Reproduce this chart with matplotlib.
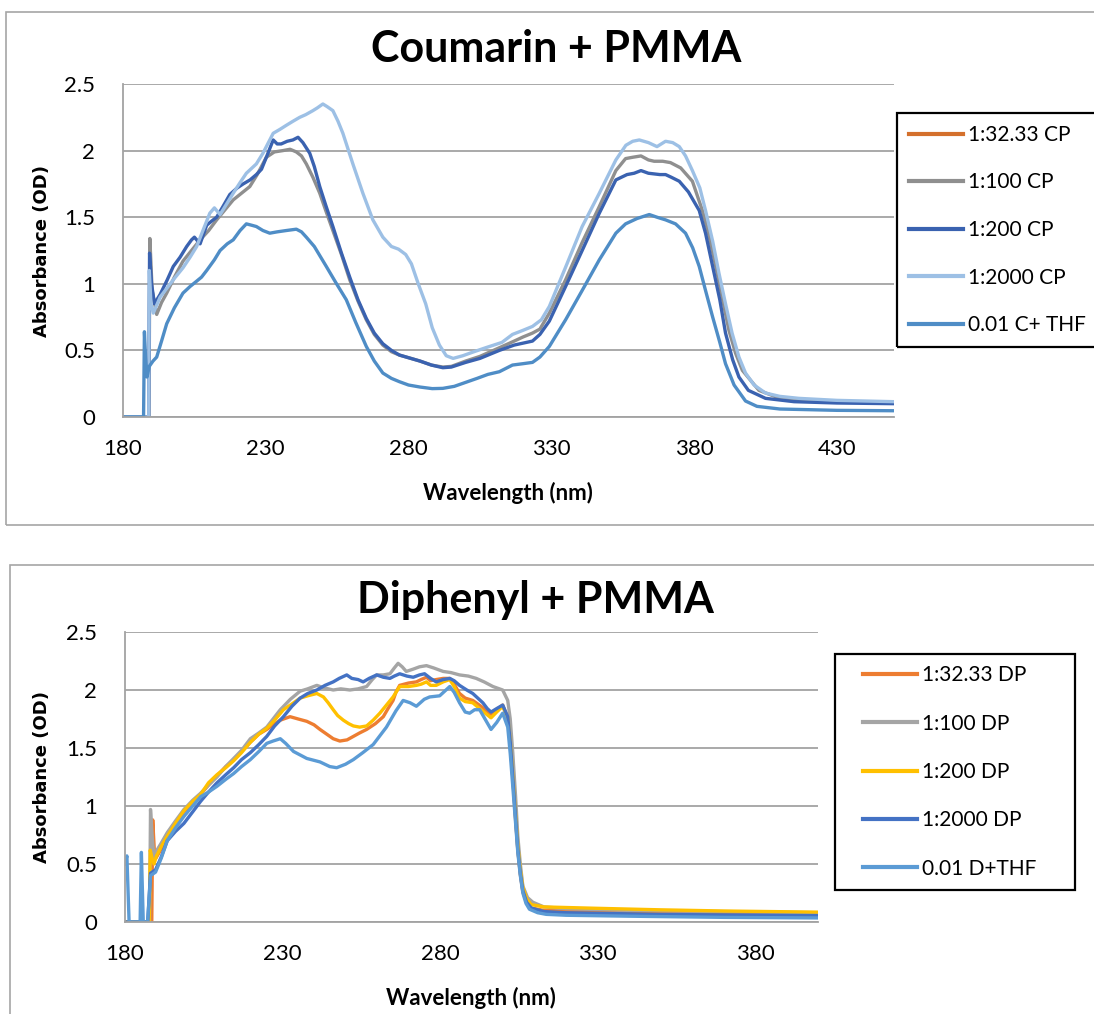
import matplotlib.pyplot as plt
from matplotlib.patches import Rectangle
from matplotlib.lines import Line2D

plt.rcParams['font.family'] = ['Lato', 'DejaVu Sans']

# ---------------- Coumarin + PMMA ----------------
c_labels = ["1:32.33 CP", "1:100 CP", "1:200 CP", "1:2000 CP", "0.01 C+ THF"]
c_colors = ["#D4702C", "#8F8F8F", "#3A62B0", "#9DC0E5", "#4F8DC6"]

# 1:32.33 CP is hidden in the original plot (only in the legend)
wl_c32 = []
od_c32 = []

wl_c100 = [180, 189.1, 189.4, 190.2, 191.8, 193.5, 195.3, 198, 201, 204, 207, 210, 212.8, 215.5,
           218.6, 221.5, 224.4, 227, 230.2, 233, 236, 238.5, 240.7, 242.5, 244.2, 246.5, 248.9,
           251, 253.5, 256.5, 259.4, 262.3, 265.2, 268, 271, 274, 276.8, 280, 284, 288, 292, 295,
           300, 305, 311.8, 317, 320, 323.4, 326, 329.3, 335, 340.8, 346.8, 352.6, 356, 358.5,
           361.4, 364, 366, 369, 371.7, 375.3, 379.4, 382.9, 385, 387.6, 390, 392.2, 394.5,
           396.9, 402.7, 410, 420, 450]
od_c100 = [0, 0, 1.34, 0.95, 0.77, 0.86, 0.93, 1.05, 1.17, 1.25, 1.33, 1.40, 1.48, 1.55,
           1.63, 1.68, 1.73, 1.82, 1.95, 1.99, 2.00, 2.01, 1.99, 1.96, 1.90, 1.80, 1.68,
           1.55, 1.40, 1.22, 1.03, 0.87, 0.73, 0.62, 0.54, 0.49, 0.465, 0.445, 0.42, 0.39, 0.375, 0.38,
           0.42, 0.455, 0.52, 0.57, 0.60, 0.63, 0.66, 0.78, 1.03, 1.31, 1.58, 1.85, 1.94, 1.95,
           1.96, 1.93, 1.92, 1.92, 1.91, 1.87, 1.77, 1.55, 1.38, 1.13, 0.88, 0.65, 0.48,
           0.35, 0.20, 0.14, 0.12, 0.11]

wl_c200 = [180, 189, 189.3, 190, 191, 193, 195.5, 197.6, 200, 202.3, 204, 205, 207, 209.3, 211,
           212.8, 215, 217.4, 220, 222.1, 224.5, 226.7, 228.5, 230.2, 232.6, 234, 235.4, 237.5,
           239.5, 241.3, 243, 245.4, 247, 248.9, 251, 253.5, 256.5, 259.4, 262.3, 265.2, 268, 271,
           274, 276.8, 280, 284, 288, 292, 295, 300, 305, 311.8, 317, 323.4, 326, 329.3, 335,
           340.8, 346.8, 352.6, 356.5, 359, 361.4, 364, 368, 370, 372, 374.8, 378, 381.8, 384,
           386.5, 389, 391, 393.5, 395.7, 399, 405, 415, 430, 450]
od_c200 = [0, 0, 1.23, 1.0, 0.85, 0.92, 1.03, 1.13, 1.20, 1.28, 1.33, 1.35, 1.30, 1.44, 1.47,
           1.50, 1.58, 1.67, 1.72, 1.75, 1.78, 1.82, 1.86, 1.95, 2.08, 2.05, 2.05, 2.07,
           2.08, 2.10, 2.06, 1.98, 1.88, 1.73, 1.59, 1.43, 1.23, 1.05, 0.88, 0.74, 0.63, 0.55,
           0.50, 0.465, 0.445, 0.42, 0.39, 0.37, 0.375, 0.41, 0.44, 0.50, 0.54, 0.57, 0.62, 0.72, 0.98,
           1.25, 1.53, 1.78, 1.82, 1.83, 1.85, 1.83, 1.82, 1.82, 1.80, 1.77, 1.69, 1.55, 1.38,
           1.13, 0.88, 0.63, 0.43, 0.30, 0.20, 0.14, 0.115, 0.105, 0.10]

wl_c2000 = [180, 189, 189.2, 189.8, 190.6, 193, 197.6, 201, 203.5, 205.8, 208, 210.4, 212, 214,
            216.3, 218.6, 221, 223.2, 226.7, 229, 232.6, 235, 237.2, 239.5, 241.9, 244, 246.5,
            248, 250, 251.5, 253.5, 255.3, 257, 260.5, 264, 267.5, 271, 274, 276.5, 279, 281,
            283.4, 286, 288.3, 290.8, 293.2, 295.6, 299, 302.9, 307, 312.7, 316.4, 320, 323.4,
            326.5, 329.3, 335.1, 340.8, 346.8, 352.6, 356.1, 358.5, 360.8, 364, 367, 370, 372.5,
            374.8, 377, 379.4, 382, 384, 386.5, 388.7, 391, 393.3, 395.7, 398, 401, 405, 410,
            416.7, 430, 450]
od_c2000 = [0, 0, 1.10, 0.85, 0.78, 0.90, 1.03, 1.12, 1.20, 1.28, 1.40, 1.53, 1.57, 1.52,
            1.60, 1.68, 1.76, 1.83, 1.90, 1.98, 2.13, 2.16, 2.19, 2.22, 2.25, 2.27, 2.30,
            2.32, 2.35, 2.33, 2.30, 2.22, 2.13, 1.90, 1.68, 1.48, 1.35, 1.28, 1.26, 1.22, 1.15,
            1.00, 0.85, 0.67, 0.54, 0.46, 0.44, 0.46, 0.49, 0.52, 0.56, 0.62, 0.65, 0.68,
            0.73, 0.83, 1.13, 1.43, 1.68, 1.93, 2.04, 2.07, 2.08, 2.06, 2.03, 2.07, 2.06,
            2.03, 1.96, 1.85, 1.72, 1.55, 1.32, 1.08, 0.85, 0.63, 0.45, 0.33, 0.24, 0.18, 0.155,
            0.14, 0.125, 0.115]

wl_cthf = [180, 187.2, 187.5, 187.9, 188.4, 189.2, 190.5, 191.8, 193.5, 195.3, 198, 201, 203.5,
           205.8, 207.5, 209.3, 212, 214, 216.5, 218.6, 221, 223.2, 225, 226.7, 229, 231.4, 234,
           237.2, 240.7, 242.5, 244.2, 247, 251.2, 254.5, 258.2, 261.5, 265.2, 268, 271, 274,
           276.8, 280, 284, 288.3, 292, 296, 300, 304, 307.8, 311.8, 316.4, 320, 323.4, 326,
           329.3, 335, 340.8, 346.8, 352.6, 356, 360, 364.3, 367, 370, 373.5, 377, 379.5, 381.8,
           384, 386.5, 389, 391, 394, 398, 402, 410, 430, 450]
od_cthf = [0, 0, 0.64, 0.45, 0.30, 0.38, 0.42, 0.45, 0.57, 0.70, 0.82, 0.93, 0.98,
           1.02, 1.05, 1.10, 1.18, 1.25, 1.30, 1.33, 1.40, 1.45, 1.44, 1.43, 1.40, 1.38, 1.39,
           1.40, 1.41, 1.39, 1.35, 1.28, 1.13, 1.01, 0.88, 0.71, 0.53, 0.42, 0.33, 0.29,
           0.265, 0.24, 0.225, 0.213, 0.215, 0.23, 0.26, 0.29, 0.32, 0.34, 0.39, 0.40, 0.41, 0.45,
           0.53, 0.73, 0.95, 1.18, 1.38, 1.45, 1.49, 1.52, 1.50, 1.48, 1.45, 1.38, 1.27, 1.13,
           0.95, 0.75, 0.56, 0.40, 0.24, 0.12, 0.08, 0.06, 0.05, 0.047]

# ---------------- Diphenyl + PMMA ----------------
d_labels = ["1:32.33 DP", "1:100 DP", "1:200 DP", "1:2000 DP", "0.01 D+THF"]
d_colors = ["#ED7D31", "#A5A5A5", "#FFC000", "#4472C4", "#5B9BD5"]

wl_d32 = [180, 188.5, 188.8, 189.3, 189.8, 191.5, 193.4, 196, 198.7, 201.5, 204, 206.5, 209.2,
          212, 214.5, 217, 219.8, 222.5, 225, 227, 229.3, 232.4, 235, 237.7, 240, 241.9, 244,
          246.1, 248.2, 250.5, 252.5, 254.5, 256.7, 259.5, 262, 263.5, 265.1, 266, 267.2, 270,
          272.5, 274, 275.7, 277, 278.8, 281, 283.1, 284.5, 286.2, 288, 290.4, 293, 296.2, 298,
          299.9, 301.5, 302.3, 303.1, 304, 304.7, 305.5, 306.3, 307.5, 309, 313, 320, 350, 400]
od_d32 = [0, 0, 0.88, 0.62, 0.55, 0.63, 0.71, 0.83, 0.95, 1.03, 1.10, 1.18, 1.26,
          1.34, 1.40, 1.47, 1.55, 1.62, 1.66, 1.70, 1.74, 1.77, 1.75, 1.73, 1.70, 1.66, 1.62,
          1.58, 1.56, 1.57, 1.60, 1.63, 1.66, 1.71, 1.77, 1.84, 1.91, 1.98, 2.04, 2.06,
          2.07, 2.09, 2.11, 2.08, 2.09, 2.10, 2.10, 2.05, 1.97, 1.93, 1.91, 1.86, 1.79, 1.83,
          1.87, 1.76, 1.55, 1.25, 0.88, 0.62, 0.41, 0.26, 0.17, 0.12, 0.10, 0.095, 0.085, 0.075]

wl_d100 = [180, 187.8, 188.1, 188.6, 189.2, 189.7, 191.5, 193.4, 196, 198.7, 201.5, 204, 206.5,
           209.2, 212, 214.5, 217, 219.8, 222.5, 225, 227, 229.3, 232.5, 235.6, 238, 240.9, 243,
           246.1, 248.5, 251.4, 254, 256.7, 258.5, 259.9, 262, 264.1, 265.5, 266.7, 268, 269.3,
           271.5, 273.5, 275.7, 278, 281, 283.5, 286.2, 289, 291.5, 294, 296.8, 299.9, 301.5,
           302.3, 303.1, 304, 304.7, 305.5, 306.3, 307.8, 309.5, 313, 320, 340, 370, 400]
od_d100 = [0, 0, 0.97, 0.75, 0.55, 0.60, 0.68, 0.77, 0.87, 0.97, 1.05, 1.11, 1.18,
           1.25, 1.34, 1.41, 1.48, 1.58, 1.63, 1.68, 1.75, 1.83, 1.92, 1.99, 2.01, 2.04, 2.02,
           2.00, 2.01, 2.00, 2.01, 2.03, 2.09, 2.13, 2.13, 2.14, 2.19, 2.23, 2.20, 2.16,
           2.18, 2.20, 2.21, 2.19, 2.16, 2.15, 2.13, 2.12, 2.10, 2.07, 2.03, 2.00, 1.91,
           1.75, 1.46, 1.08, 0.74, 0.50, 0.31, 0.21, 0.17, 0.13, 0.115, 0.10, 0.09, 0.08]

wl_d200 = [180, 187.7, 188, 188.6, 189.2, 190, 191.5, 193.4, 196, 198.7, 201.5, 204, 206.5, 209.2,
           212, 214.5, 217, 219.8, 222.5, 225, 227.5, 230.3, 233, 235.6, 238, 240.9, 243, 244.5,
           246.1, 247.5, 249.3, 251, 252.5, 254.5, 256.7, 258.8, 260.9, 263, 265.1, 267.2, 270,
           272.5, 274, 275.7, 277, 278.8, 281, 283.1, 284.5, 286.2, 288, 290.4, 293, 296.2, 298,
           299.9, 301.5, 302.3, 303.1, 304, 304.7, 305.5, 306.3, 307.5, 309, 313, 320, 330, 350,
           370, 400]
od_d200 = [0, 0, 0.62, 0.55, 0.50, 0.57, 0.65, 0.74, 0.85, 0.96, 1.04, 1.10, 1.20, 1.27,
           1.33, 1.39, 1.46, 1.55, 1.62, 1.67, 1.74, 1.83, 1.88, 1.93, 1.95, 1.97, 1.94, 1.89,
           1.83, 1.78, 1.74, 1.71, 1.69, 1.68, 1.69, 1.74, 1.80, 1.87, 1.94, 2.03, 2.03,
           2.04, 2.05, 2.07, 2.04, 2.04, 2.07, 2.09, 2.03, 1.93, 1.90, 1.89, 1.83, 1.76, 1.81,
           1.86, 1.76, 1.56, 1.27, 0.92, 0.66, 0.45, 0.30, 0.20, 0.15, 0.13, 0.125, 0.118, 0.105,
           0.095, 0.085]

wl_d2000 = [180, 187.2, 188.1, 189.7, 191.5, 193.4, 196, 198.7, 201.5, 204, 206.5, 209.2, 212,
            214.5, 217, 219.8, 222.5, 225, 227.5, 230.3, 233, 235.6, 238, 240.9, 243.5, 246.1,
            248, 250.4, 252, 254, 255.6, 257.5, 259.9, 262, 264.1, 265.5, 267.2, 269.5, 271.5,
            273.5, 275.1, 277, 278.8, 281, 283.1, 284.5, 286.2, 288.5, 290.4, 292, 293.6, 295,
            296.2, 298, 299.9, 301.5, 302.3, 303.1, 304, 304.7, 305.5, 306.3, 307.5, 309, 313,
            320, 350, 400]
od_d2000 = [0, 0, 0.42, 0.45, 0.56, 0.70, 0.78, 0.85, 0.95, 1.04, 1.12, 1.20, 1.27,
            1.33, 1.40, 1.46, 1.53, 1.60, 1.69, 1.77, 1.86, 1.93, 1.97, 2.00, 2.04, 2.07,
            2.10, 2.13, 2.10, 2.09, 2.07, 2.10, 2.13, 2.11, 2.10, 2.12, 2.14, 2.12, 2.11,
            2.13, 2.14, 2.10, 2.07, 2.09, 2.10, 2.08, 2.04, 2.00, 1.97, 1.93, 1.89, 1.84,
            1.81, 1.84, 1.87, 1.77, 1.55, 1.25, 0.90, 0.63, 0.42, 0.27, 0.17, 0.12, 0.09,
            0.08, 0.065, 0.055]

wl_dthf = [180, 180.6, 181.3, 184.8, 185.2, 185.8, 187.2, 188.1, 189.7, 191.5, 193.4, 196, 198.7,
           201.5, 204, 206.5, 209.2, 212, 214.5, 217, 219.8, 222.5, 225, 227, 229.3, 231, 233.5,
           237.7, 241.9, 245, 247.2, 250, 252.5, 255.5, 258.8, 263, 266, 268.3, 270.5, 272.5,
           275, 276.7, 279.9, 281.5, 283.1, 284.5, 286.2, 288, 289.4, 291, 292.6, 294.5, 296.2,
           298, 299.9, 301.5, 302.3, 303.1, 304, 304.7, 305.5, 306.3, 307.3, 308.4, 311, 313.7,
           320, 340, 370, 400]
od_dthf = [0.50, 0.57, 0, 0, 0.60, 0, 0, 0.40, 0.43, 0.55, 0.70, 0.81, 0.91,
           1.00, 1.08, 1.12, 1.17, 1.23, 1.28, 1.34, 1.40, 1.47, 1.54, 1.56, 1.58, 1.54, 1.47,
           1.41, 1.38, 1.34, 1.33, 1.36, 1.40, 1.46, 1.53, 1.68, 1.82, 1.91, 1.89, 1.86,
           1.92, 1.94, 1.95, 1.99, 2.03, 1.98, 1.89, 1.81, 1.80, 1.83, 1.83, 1.74, 1.66,
           1.72, 1.80, 1.68, 1.45, 1.17, 0.85, 0.60, 0.40, 0.25, 0.16, 0.11, 0.08, 0.066,
           0.058, 0.05, 0.04, 0.035]

W, H = 1094, 1014
fig = plt.figure(figsize=(W / 100, H / 100), dpi=100)


def fx(px):
    return px / W


def fy(py):
    return 1 - py / H


# chart area borders (they run off the image on the right/bottom)
fig.patches.append(Rectangle((fx(6), fy(525)), fx(1200), fy(12) - fy(525), transform=fig.transFigure,
                             fill=False, edgecolor="#A6A6A6", lw=1.2))
fig.patches.append(Rectangle((fx(10), fy(1100)), fx(1200), fy(565) - fy(1100), transform=fig.transFigure,
                             fill=False, edgecolor="#A6A6A6", lw=1.2))


def style_axes(ax, xmax, xticks):
    ax.set_xlim(180, xmax)
    ax.set_ylim(0, 2.5)
    ax.set_xticks(xticks)
    ax.set_yticks([0, 0.5, 1, 1.5, 2, 2.5])
    ax.set_yticklabels(["0", "0.5", "1", "1.5", "2", "2.5"])
    ax.yaxis.grid(True, color="#A3A3A3", lw=1.3)
    ax.set_axisbelow(True)
    for s in ["top", "right"]:
        ax.spines[s].set_visible(False)
    for s in ["left", "bottom"]:
        ax.spines[s].set_color("#A3A3A3")
        ax.spines[s].set_linewidth(1.3)
    ax.tick_params(length=0, labelsize=16)
    ax.tick_params(axis="y", pad=20)
    ax.tick_params(axis="x", pad=16)


# ---- top chart
ax1 = fig.add_axes([fx(123), fy(417), fx(894 - 123), (417 - 84) / H])
top_series = [(wl_c32, od_c32), (wl_c100, od_c100), (wl_c200, od_c200),
              (wl_c2000, od_c2000), (wl_cthf, od_cthf)]
for (x, y), c, lab in zip(top_series, c_colors, c_labels):
    ax1.plot(x, y, color=c, lw=2.4, label=lab, solid_joinstyle="round")
style_axes(ax1, 450, [180, 230, 280, 330, 380, 430])

# ---- bottom chart
ax2 = fig.add_axes([fx(125), fy(922), fx(818 - 125), (922 - 632) / H])
bot_series = [(wl_d32, od_d32), (wl_d100, od_d100), (wl_d200, od_d200),
              (wl_d2000, od_d2000), (wl_dthf, od_dthf)]
for (x, y), c, lab in zip(bot_series, d_colors, d_labels):
    ax2.plot(x, y, color=c, lw=2.4, label=lab, solid_joinstyle="round")
style_axes(ax2, 400, [180, 230, 280, 330, 380])

# titles and axis labels
fig.text(fx(556), fy(62), "Coumarin + PMMA", ha="center", va="baseline", fontsize=31, fontweight="bold")
fig.text(fx(535), fy(613), "Diphenyl + PMMA", ha="center", va="baseline", fontsize=31, fontweight="bold")
fig.text(fx(508), fy(493), "Wavelength (nm)", ha="center", va="center", fontsize=16, fontweight="bold")
fig.text(fx(471), fy(998), "Wavelength (nm)", ha="center", va="center", fontsize=16, fontweight="bold")
fig.text(fx(42), fy(251), "Absorbance (OD)", ha="center", va="center", rotation=90,
         fontsize=13, fontweight="bold", family="DejaVu Sans")
fig.text(fx(42), fy(777), "Absorbance (OD)", ha="center", va="center", rotation=90,
         fontsize=13, fontweight="bold", family="DejaVu Sans")

# legends (frame drawn separately)
fig.patches.append(Rectangle((fx(897), fy(347)), fx(300), fy(113) - fy(347), transform=fig.transFigure,
                             fill=False, edgecolor="black", lw=1.6))
fig.patches.append(Rectangle((fx(835), fy(890)), fx(1075 - 835), fy(654) - fy(890), transform=fig.transFigure,
                             fill=False, edgecolor="black", lw=1.6))

h1 = [Line2D([], [], color=c, lw=3) for c in c_colors]
fig.legend(h1, c_labels, loc="center left", bbox_to_anchor=(fx(909), fy(230)),
           frameon=False, borderpad=0, borderaxespad=0, handlelength=2.6, handletextpad=0.25,
           labelspacing=1.32, fontsize=15)
h2 = [Line2D([], [], color=c, lw=3) for c in d_colors]
fig.legend(h2, d_labels, loc="center left", bbox_to_anchor=(fx(863), fy(772)),
           frameon=False, borderpad=0, borderaxespad=0, handlelength=2.6, handletextpad=0.25,
           labelspacing=1.36, fontsize=15)

fig.savefig("out.png", dpi=100)
